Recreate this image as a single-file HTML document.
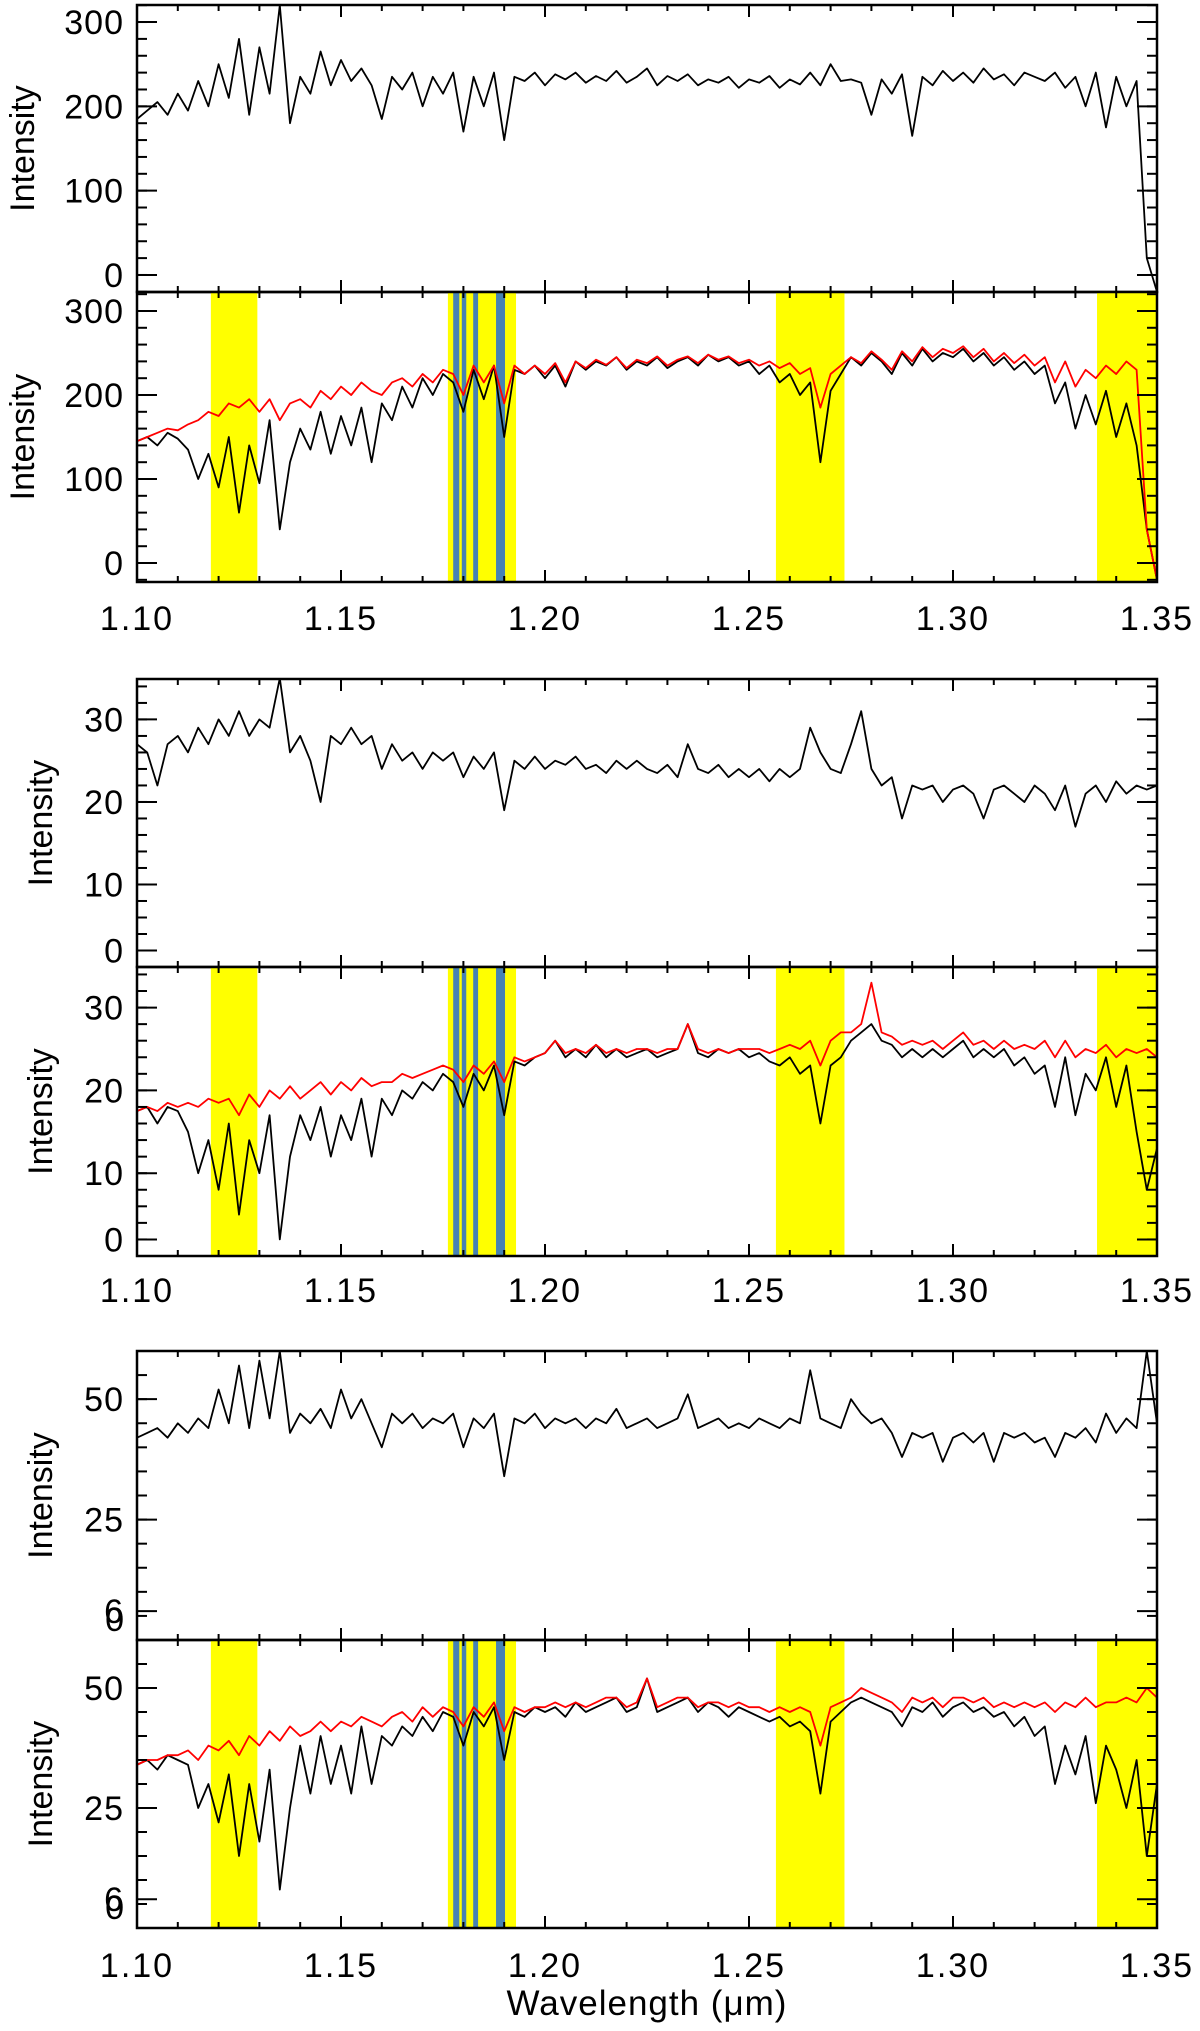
<!DOCTYPE html>
<html><head><meta charset="utf-8">
<style>
html,body{margin:0;padding:0;background:#fff;}
svg{display:block;}
text{font-family:"Liberation Sans",sans-serif;fill:#000;}
</style></head>
<body>
<svg id="fig" width="1200" height="2031" viewBox="0 0 1200 2031" xmlns="http://www.w3.org/2000/svg"></svg>
<script>
// ---- data ----
const wlStart = 1.10, wlStep = 0.0025;
const p1Black = [185,195,205,190,215,195,230,200,250,210,280,190,270,215,320,180,235,215,265,225,255,230,245,225,185,235,220,240,200,235,215,240,170,235,200,240,160,235,230,240,225,238,232,240,228,236,230,242,228,235,245,225,236,230,238,225,232,228,235,222,232,228,236,222,232,226,240,225,250,230,232,228,190,232,215,238,165,235,225,242,230,240,228,245,232,238,225,240,235,230,240,222,235,200,240,175,235,200,230,20,-20];
const p2Black = [145,150,140,155,148,135,100,130,90,150,60,140,95,170,40,120,160,135,180,130,175,140,185,120,190,170,210,185,220,200,225,215,180,230,195,235,150,230,225,235,220,235,210,240,230,240,235,245,230,240,235,245,232,240,245,235,248,240,245,235,240,225,235,215,225,200,215,120,205,225,245,235,250,240,225,250,235,255,240,250,245,255,240,250,235,245,230,240,225,235,190,215,160,200,165,205,150,190,140,40,-20];
const p2Red = [145,150,155,160,158,165,170,180,175,190,185,195,180,195,170,190,195,185,205,195,210,200,215,205,200,215,220,210,225,215,230,225,200,235,215,235,190,235,225,235,225,238,215,240,232,242,236,245,232,242,238,246,235,242,246,238,248,242,246,238,242,235,240,232,238,225,232,185,225,235,245,238,252,242,230,252,240,257,245,255,250,258,245,255,240,250,238,248,235,245,215,240,210,230,220,235,225,240,230,40,-20];
const p3Black = [27,26,22,27,28,26,29,27,30,28,31,28,30,29,35,26,28,25,20,28,27,29,27,28,24,27,25,26,24,26,25,26,23,25.5,24,26,19,25,24,25.5,24,25,24.5,25.5,24,24.5,23.5,25,24,25,24,23.5,24.5,23,27,24,23.5,24.5,23,24,23,24,22.5,24,23,24,29,26,24,23.5,27,31,24,22,23,18,22,21.5,22,20,21.5,22,21,18,21.5,22,21,20,22,21,19,22,17,21,22,20,22.5,21,22,21.5,22];
const p4Black = [17.5,18,16,18,17.5,15,10,14,8,16,5,14,10,17,2,12,17,14,18,12,17,14,19,12,19,17,20,19,21,20,22,21,18,22,20,23,17,23.5,23,24,24.5,26,24,25,24,25.5,24,25,24,24.5,25,24,24.5,25,28,24.5,24,25,24.5,25,24,24.5,23.5,23,24,22,23,16,23,24,26,27,28,26,25.5,24,25,24,25,24,25,26,24,25,24,25,23,24,22,23,18,24,17,22,20,24,18,23,15,8,13];
const p4Red = [17.5,18,17.5,18.5,18,18.5,18,19,18.5,19,17,19.5,18,20,19,20.5,19,20,21,19.5,21,20,21.5,20.5,21,21,22,21.5,22,22.5,23,22.5,21,23,22,23.5,21,24,23.5,24,24.5,26,24.5,25,24.5,25.5,24.5,25,24.5,25,25,24.5,25,25,28,25,24.5,25,24.5,25,25,25,24.5,25,25.5,25,26,23,26,27,27,28,33,27,26.5,25.5,26,25.5,26,25,26,27,25.5,26,25,26,25,25.5,25,26,24,26,24,25,24.5,25.5,24,25,24.5,25,24];
const p5Black = [42,43,44,42,45,43,46,44,52,45,57,44,58,46,60,43,47,45,48,44,52,46,50,45,40,47,45,47,44,46,45,47,40,46,44,47,34,46,45,47,44,46,45,46,44,46,45,48,44,45,46,44,45,46,51,44,45,46,44,45,44,46,45,44,46,45,56,46,45,44,50,47,45,46,43,38,43,42,43,37,42,43,41,43,37,43,42,43,41,42,38,43,42,44,41,47,43,46,44,60,45];
const p6Black = [34,35,33,36,35,34,25,30,22,32,15,30,18,33,8,25,38,28,40,30,38,28,42,30,40,38,42,40,44,41,45,44,38,45,42,46,35,45,44,46,45,46,44,47,45,46,47,48,45,46,52,45,46,47,48,45,47,46,44,46,45,44,43,44,42,43,41,28,43,45,47,48,47,46,45,42,46,45,47,44,46,47,45,46,44,45,42,44,40,42,30,38,32,40,26,38,33,25,35,15,30];
const p6Red = [34,35,35,36,36,37,35,38,37,39,36,40,38,41,39,42,40,41,43,41,43,42,44,43,42,44,45,43,46,44,46,45,42,46,44,47,41,46,45,46,46,47,46,47,46,47,48,48,46,47,52,46,47,48,48,46,47,47,46,47,46,46,45,46,45,46,45,38,46,47,48,50,49,48,47,45,48,47,48,46,48,48,47,48,46,47,46,47,46,47,45,47,46,48,46,47,47,48,47,50,48];
const yellowBands = [[1.1181,1.1295],[1.1762,1.1929],[1.2566,1.2734],[1.3353,1.35]];
const blueBands = [[1.1775,1.1790],[1.1796,1.1807],[1.1824,1.1836],[1.1880,1.1902]];
const xTickLabels = ["1.10","1.15","1.20","1.25","1.30","1.35"];
const yTicks12 = [0,100,200,300];
const yLabels12 = ["0","100","200","300"];
const yTicks34 = [30,20,10,2];
const yLabels34 = ["30","20","10","0"];
const yTicks56 = [50,25,6];
const yLabels56 = ["50","25","6"];

// ---- layout ----
const svg = document.getElementById('fig');
const NS = 'http://www.w3.org/2000/svg';
const X0 = 137, X1 = 1157, WMIN = 1.10, WMAX = 1.35;
const xs = w => X0 + (w - WMIN) / (WMAX - WMIN) * (X1 - X0);
function mk(tag, attrs, parent){ const e = document.createElementNS(NS, tag); for (const k in attrs) e.setAttribute(k, attrs[k]); (parent||svg).appendChild(e); return e; }

const panels = [
 {name:'panel-1', top:5, bot:292, ymin:-20.2, ymax:320.2, series:[[p1Black,'#000']], bands:false, ticks:yTicks12, labels:yLabels12, minor:20, mStart:-20, labX:22},
 {name:'panel-2', top:292, bot:582, ymin:-22.6, ymax:322.6, series:[[p2Black,'#000'],[p2Red,'#ff0000']], bands:true, ticks:yTicks12, labels:yLabels12, minor:20, mStart:-20, labX:22, xlab:618},
 {name:'panel-3', top:679, bot:967, ymin:0, ymax:34.9, series:[[p3Black,'#000']], bands:false, ticks:yTicks34, labels:yLabels34, minor:2, mStart:0, labX:40},
 {name:'panel-4', top:967, bot:1256, ymin:0, ymax:34.9, series:[[p4Black,'#000'],[p4Red,'#ff0000']], bands:true, ticks:yTicks34, labels:yLabels34, minor:2, mStart:0, labX:40, xlab:1290},
 {name:'panel-5', top:1351, bot:1640, ymin:0, ymax:60, series:[[p5Black,'#000']], bands:false, ticks:yTicks56, labels:yLabels56, minor:5, mStart:0, labX:40, zeroLab:true},
 {name:'panel-6', top:1640, bot:1928, ymin:0, ymax:60, series:[[p6Black,'#000'],[p6Red,'#ff0000']], bands:true, ticks:yTicks56, labels:yLabels56, minor:5, mStart:0, labX:40, zeroLab:true, xlab:1965}
];

panels.forEach((p, pi) => {
  const ys = v => p.bot - (v - p.ymin) / (p.ymax - p.ymin) * (p.bot - p.top);
  const g = mk('g', {});
  
  
  const cid = 'clip' + pi;
  const cp = mk('clipPath', {id: cid}, g);
  mk('rect', {x: X0, y: p.top, width: X1 - X0, height: p.bot - p.top}, cp);
  if (p.bands) {
    yellowBands.forEach((b, i) => {
      const r = mk('rect', {x: xs(b[0]), y: p.top, width: xs(b[1]) - xs(b[0]), height: p.bot - p.top, fill: '#ffff00'}, g);
      
      
    });
    blueBands.forEach((b, i) => {
      const r = mk('rect', {x: xs(b[0]), y: p.top, width: xs(b[1]) - xs(b[0]), height: p.bot - p.top, fill: '#4682b4'}, g);
      
      
    });
  }
  p.series.forEach(([arr, col], si) => {
    const pts = arr.map((v, i) => xs(wlStart + i * wlStep).toFixed(1) + ',' + ys(v).toFixed(1)).join(' ');
    const pl = mk('polyline', {points: pts, fill: 'none', stroke: col, 'stroke-width': 1.8, 'stroke-linejoin': 'round', 'clip-path': 'url(#' + cid + ')'}, g);
    
    
  });
  mk('rect', {x: X0, y: p.top, width: X1 - X0, height: p.bot - p.top, fill: 'none', stroke: '#000', 'stroke-width': 2.5}, g);
  for (let k = 0; k <= 25; k++) {
    const w = WMIN + k * 0.01, x = xs(w), len = (k % 5 === 0) ? 12 : 6;
    mk('line', {x1: x, x2: x, y1: p.bot, y2: p.bot - len, stroke: '#000', 'stroke-width': 2}, g);
    mk('line', {x1: x, x2: x, y1: p.top, y2: p.top + len, stroke: '#000', 'stroke-width': 2}, g);
  }
  for (let v = p.mStart; v <= p.ymax; v += p.minor) {
    if (v < p.ymin) continue;
    const y = ys(v);
    mk('line', {x1: X0, x2: X0 + 10, y1: y, y2: y, stroke: '#000', 'stroke-width': 2}, g);
    mk('line', {x1: X1, x2: X1 - 10, y1: y, y2: y, stroke: '#000', 'stroke-width': 2}, g);
  }
  p.ticks.forEach((v, i) => {
    const y = ys(v);
    mk('line', {x1: X0, x2: X0 + 20, y1: y, y2: y, stroke: '#000', 'stroke-width': 2}, g);
    mk('line', {x1: X1, x2: X1 - 20, y1: y, y2: y, stroke: '#000', 'stroke-width': 2}, g);
    const t = mk('text', {x: 124, y: y + 12, 'font-size': 34, 'text-anchor': 'end', 'letter-spacing': 1}, g);
    t.textContent = p.labels[i];
    
    
  });
  if (p.zeroLab) {
    const t = mk('text', {x: 124, y: ys(6) + 20, 'font-size': 34, 'text-anchor': 'end'}, g);
    t.textContent = '0';
    
    
  }
  const cy = (p.top + p.bot) / 2;
  const yt = mk('text', {x: p.labX, y: cy, 'font-size': 34, 'text-anchor': 'middle', transform: 'rotate(-90 ' + p.labX + ' ' + cy + ') translate(0 12)'}, g);
  yt.textContent = 'Intensity';
  
  
  if (p.xlab) {
    xTickLabels.forEach((s, i) => {
      const t = mk('text', {x: xs(WMIN + i * 0.05), y: p.xlab + 12, 'font-size': 34, 'text-anchor': 'middle', 'letter-spacing': 2}, g);
      t.textContent = s;
      
      
    });
  }
});
const xt = mk('text', {x: 647, y: 2015, 'font-size': 35, 'text-anchor': 'middle', 'letter-spacing': 1});
xt.textContent = 'Wavelength (\u03bcm)';


</script>
</body></html>
